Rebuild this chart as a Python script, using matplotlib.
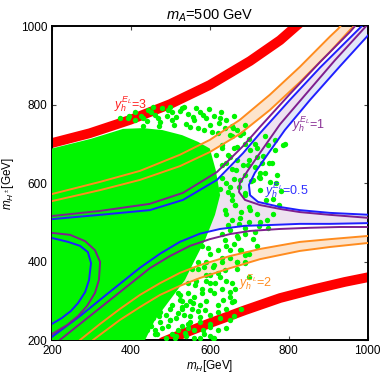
import numpy as np
import matplotlib
matplotlib.use("Agg")
import matplotlib.pyplot as plt

plt.rcParams['font.family'] = ['Liberation Sans', 'DejaVu Sans']
plt.rcParams['mathtext.fontset'] = 'custom'
plt.rcParams['mathtext.rm'] = 'Liberation Sans'
plt.rcParams['mathtext.it'] = 'Liberation Sans:italic'

############## contour lines (mH, mH+-) in GeV
red_up_x = [190, 200, 296, 398, 499, 600, 702, 778, 828, 840]
red_up_y = [699, 702, 727, 761, 801, 850, 911, 964, 1008, 1020]
red_lo_x = [470, 481, 524, 600, 689, 778, 866, 942, 1006, 1015]
red_lo_y = [185, 195, 213, 243, 276, 307, 330, 348, 361, 363]

or_up_a_x = [190, 200, 322, 423, 524, 600, 676, 752, 828, 904, 925, 935]
or_up_a_y = [569, 572, 603, 631, 672, 710, 761, 825, 896, 973, 993, 1005]
or_up_b_x = [190, 200, 322, 423, 524, 600, 676, 752, 828, 904, 955, 970]
or_up_b_y = [551, 554, 582, 608, 643, 679, 725, 786, 857, 934, 990, 1005]
or_lo_a_x = [262, 271, 322, 372, 423, 474, 524, 575, 651, 727, 828, 904, 998, 1010]
or_lo_a_y = [190, 200, 241, 279, 315, 345, 371, 391, 414, 432, 450, 457, 465, 466]
or_lo_b_x = [296, 304, 372, 423, 474, 524, 575, 651, 727, 828, 904, 998, 1010]
or_lo_b_y = [190, 200, 251, 284, 315, 338, 358, 383, 406, 427, 437, 447, 448]

# y_h = 0.5 (blue) and y_h = 1 (purple), four branches each
bl_ul_x = [190, 200, 322, 448, 532, 618, 684, 727, 803, 879, 955, 985, 1000]
bl_ul_y = [507, 508, 519, 531, 557, 608, 676, 727, 812, 894, 970, 1000, 1016]
pu_ul_x = [190, 200, 322, 448, 532, 618, 684, 727, 803, 879, 955, 968, 985]
pu_ul_y = [515, 516, 529, 547, 575, 628, 694, 743, 827, 908, 985, 1000, 1018]
bl_ur_x = [1015, 1006, 930, 854, 790, 745, 714, 699, 702, 722, 778, 828, 904, 1006, 1015]
bl_ur_y = [992, 982, 898, 812, 735, 671, 626, 595, 569, 552, 539, 531, 524, 519, 519]
pu_ur_x = [1010, 996, 917, 841, 778, 732, 697, 676, 674, 689, 727, 778, 828, 904, 1006, 1015]
pu_ur_y = [1015, 1000, 913, 824, 750, 684, 633, 600, 577, 557, 544, 534, 526, 519, 511, 511]
bl_lr_x = [193, 200, 271, 347, 423, 474, 524, 575, 626, 689, 752, 828, 904, 1006, 1015]
bl_lr_y = [200, 208, 261, 323, 384, 420, 450, 471, 483, 491, 493, 496, 496, 498, 498]
pu_lr_x = [212, 220, 296, 372, 448, 499, 550, 600, 651, 702, 778, 854, 930, 1006, 1015]
pu_lr_y = [192, 200, 261, 322, 383, 414, 440, 457, 470, 478, 483, 486, 488, 488, 488]
bl_ll_x = [190, 200, 241, 271, 291, 299, 294, 284, 266, 248, 225, 200, 190]
bl_ll_y = [461, 460, 450, 440, 424, 396, 353, 322, 294, 274, 256, 241, 236]
pu_ll_x = [190, 200, 246, 284, 309, 322, 319, 309, 289, 266, 238, 200, 190]
pu_ll_y = [474, 473, 468, 452, 429, 399, 353, 320, 287, 261, 238, 215, 210]

############## scan points: dense core outline plus the scattered ones
core_x = [200, 300, 380, 430, 480, 530, 570, 600, 615, 626, 613, 588, 562, 537, 499, 461, 436, 200]
core_y = [688, 713, 738, 740, 735, 722, 705, 688, 633, 569, 519, 455, 404, 353, 302, 251, 200, 200]

# top fringe
top_x = [372, 392, 410, 431, 443, 461, 474, 494, 504, 524, 540, 557, 570, 583, 600, 605, 626, 638, 651, 659,
         676, 689, 702, 669, 720, 651, 631, 410, 425, 440, 452, 468, 480, 492, 505, 515, 530, 545,
         560, 575, 590, 610, 622, 640, 655, 670, 685, 700, 715, 430, 470, 510, 550, 585, 620, 655,
         690, 395, 455, 500, 535, 565, 598, 628, 660]
top_y = [766, 766, 781, 766, 786, 773, 756, 786, 761, 784, 750, 768, 740, 773, 748, 730, 766, 740, 722, 740,
         722, 748, 684, 692, 666, 666, 697, 760, 772, 758, 780, 765, 790, 772, 782, 768, 792, 776,
         760, 780, 765, 772, 752, 760, 745, 735, 728, 712, 700, 745, 745, 748, 742, 735, 728, 720,
         700, 772, 795, 793, 795, 790, 788, 782, 770]
# right of the core, around the crossing and in the nose
mid_x = [727, 709, 676, 651, 727, 747, 765, 785, 732, 757, 752, 768, 727, 689, 664, 702, 676, 646,
         689, 714, 671, 638, 656, 638, 727, 747, 775, 697, 666, 631, 646, 742, 615, 632, 600,
         630, 645, 660, 640, 655, 670, 685, 700, 715, 690, 705, 725, 740, 660, 675, 690, 655,
         640, 625, 665, 680, 700, 720, 640, 655, 675, 700, 725, 745, 760, 630, 650, 670, 690,
         710, 640, 660, 680, 700, 720, 650, 670, 690, 760, 780, 770, 750, 790, 765, 740, 720, 735]
mid_y = [625, 608, 608, 590, 582, 697, 684, 697, 651, 651, 603, 600, 613, 569, 544, 531, 511, 493,
         485, 475, 460, 455, 557, 531, 501, 485, 544, 646, 633, 613, 577, 557, 671, 646, 595,
         690, 672, 690, 650, 635, 660, 645, 660, 640, 620, 605, 615, 625, 610, 590, 575, 570,
         600, 585, 545, 525, 540, 520, 520, 505, 495, 500, 490, 505, 520, 470, 480, 465, 470,
         458, 440, 445, 430, 420, 440, 410, 400, 395, 560, 580, 620, 650, 700, 710, 720, 690, 670]
# below the crossing, down to the lower red band
low_x = [656, 651, 656, 633, 600, 608, 575, 626, 608, 575, 557, 613, 583, 669, 651, 631, 676, 600,
         550, 537, 512, 588, 621, 638, 689, 595, 562, 385, 423, 461, 474, 499, 448, 524, 486, 530, 545,
         560, 580, 600, 620, 590, 610, 630, 570, 590, 620, 640, 600, 580, 610, 630, 650, 560, 590,
         620, 640, 660, 540, 570, 600, 625, 550, 575, 600, 620, 560, 585, 610, 530, 500, 520, 480,
         505, 540, 460, 440, 470, 500, 530, 545, 520, 665, 680, 660, 640, 600, 670, 690, 700, 650,
         470, 490, 510, 525, 480, 505, 530, 550, 470, 490, 515, 535, 555, 575, 455, 475, 495, 520,
         545, 465, 490, 515, 560, 440, 420, 450, 580, 565, 545, 590, 600, 585, 570, 555]
low_y = [297, 322, 345, 302, 233, 205, 205, 360, 386, 259, 294, 345, 225, 399, 429, 409, 429, 327,
         246, 218, 205, 276, 271, 378, 417, 434, 340, 213, 238, 225, 271, 251, 256, 302, 307, 280, 240,
         430, 440, 420, 430, 400, 390, 400, 380, 365, 370, 350, 345, 330, 320, 330, 310, 310, 300,
         290, 280, 300, 290, 275, 265, 255, 260, 245, 240, 225, 225, 215, 205, 235, 250, 270, 230,
         215, 210, 215, 235, 260, 280, 300, 320, 320, 330, 280, 260, 230, 210, 380, 400, 360, 250,
         340, 325, 335, 315, 300, 290, 285, 300, 280, 265, 255, 265, 280, 290, 255, 245, 235, 225,
         230, 215, 205, 210, 205, 225, 210, 235, 320, 350, 345, 350, 365, 385, 400, 380]

pts_x = top_x + mid_x + low_x
pts_y = top_y + mid_y + low_y

labels = ['$y_h^{E_L}$=3', '$y_h^{E_L}$=2', '$y_h^{E_L}$=1', '$y_h^{E_L}$=0.5']
label_x = [398, 717, 849, 795]
label_y = [800, 348, 750, 583]

c_red, c_or, c_pu, c_bl, c_gr = '#ff0000', '#ff8c1f', '#7f1f8f', '#1f1fff', '#00f500'
label_c = ['#ff2020', '#ff8c1f', '#8a3296', '#3030ff']

fig = plt.figure(figsize=(3.82, 3.78), dpi=100)
ax = fig.add_axes([0.136, 0.1005, 0.8266, 0.8305])

# shaded regions
ax.fill(bl_ul_x + [1015, 1015] + bl_lr_x[::-1], bl_ul_y + [1016, 498] + bl_lr_y[::-1],
        color='#eee2f0', lw=0, zorder=1)
ax.fill(pu_ur_x + [1030, 1030], pu_ur_y + [511, 1015], color='#e2e8f8', lw=0, zorder=1)
ax.fill(bl_ur_x + [1030, 1030], bl_ur_y + [519, 992], color='white', lw=0, zorder=1)
ax.fill(or_up_a_x + or_up_b_x[::-1], or_up_a_y + or_up_b_y[::-1], color='#fde4cc', lw=0, zorder=1)
ax.fill(or_lo_a_x + or_lo_b_x[::-1], or_lo_a_y + or_lo_b_y[::-1], color='#fde4cc', lw=0, zorder=1)

# y_h = 3 bands
ax.plot(red_up_x, red_up_y, color=c_red, lw=7, solid_capstyle='butt', zorder=2)
ax.plot(red_lo_x, red_lo_y, color=c_red, lw=7, solid_capstyle='butt', zorder=2)

# scan points
ax.fill(core_x, core_y, color=c_gr, lw=0, zorder=3)
ax.scatter(pts_x, pts_y, s=15, color=c_gr, lw=0, zorder=3)

for xs, ys, c in [(or_up_a_x, or_up_a_y, c_or), (or_up_b_x, or_up_b_y, c_or),
                  (or_lo_a_x, or_lo_a_y, c_or), (or_lo_b_x, or_lo_b_y, c_or),
                  (pu_ul_x, pu_ul_y, c_pu), (bl_ul_x, bl_ul_y, c_bl),
                  (pu_ur_x, pu_ur_y, c_pu), (bl_ur_x, bl_ur_y, c_bl),
                  (pu_lr_x, pu_lr_y, c_pu), (bl_lr_x, bl_lr_y, c_bl),
                  (pu_ll_x, pu_ll_y, c_pu), (bl_ll_x, bl_ll_y, c_bl)]:
    ax.plot(xs, ys, color=c, lw=1.4, zorder=4)

for t, x, y, c in zip(labels, label_x, label_y, label_c):
    ax.text(x, y, t, color=c, fontsize=9, ha='center', va='center', zorder=5)

ax.set_xlim(200, 1000)
ax.set_ylim(200, 1000)
ax.set_xticks([200, 400, 600, 800, 1000])
ax.set_yticks([200, 400, 600, 800, 1000])
ax.tick_params(labelsize=8.5, length=3, width=0.8, colors='#444444', labelcolor='black')
ax.tick_params(top=True, right=True, direction='in')
for s in ax.spines.values():
    s.set_linewidth(1.4)
ax.set_xlabel('$m_H$[GeV]', fontsize=8.5, labelpad=1)
ax.set_ylabel(r'$m_{H^\pm}$[GeV]', fontsize=8.5, labelpad=3)
ax.set_title('$m_A$=500 GeV', fontsize=10.5, pad=5)

fig.savefig('out.png', dpi=100)
